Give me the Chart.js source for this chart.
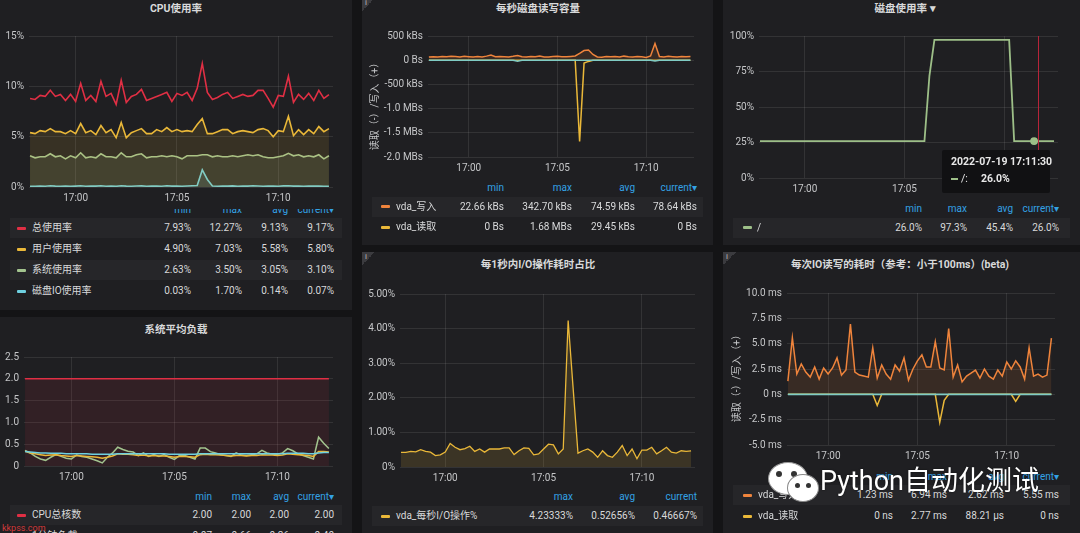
<!DOCTYPE html>
<html>
<head>
<meta charset="utf-8">
<script src="https://cdn.jsdelivr.net/npm/chart.js@4.4.1/dist/chart.umd.min.js"></script>
<style>
html, body { margin: 0; padding: 0; background: #141416; }
#root { position: relative; width: 1080px; height: 533px; overflow: hidden; background: #141416;
        font-family: Roboto, 'Noto Sans CJK SC', sans-serif; }
.panel { position: absolute; background: #1f1f22; }
</style>
</head>
<body>
<div id="root"></div>
<script>
// sample times (15s step)
const times = [
  '16:57:45','16:58:00','16:58:15','16:58:30','16:58:45','16:59:00','16:59:15','16:59:30',
  '16:59:45','17:00:00','17:00:15','17:00:30','17:00:45','17:01:00','17:01:15','17:01:30',
  '17:01:45','17:02:00','17:02:15','17:02:30','17:02:45','17:03:00','17:03:15','17:03:30',
  '17:03:45','17:04:00','17:04:15','17:04:30','17:04:45','17:05:00','17:05:15','17:05:30',
  '17:05:45','17:06:00','17:06:15','17:06:30','17:06:45','17:07:00','17:07:15','17:07:30',
  '17:07:45','17:08:00','17:08:15','17:08:30','17:08:45','17:09:00','17:09:15','17:09:30',
  '17:09:45','17:10:00','17:10:15','17:10:30','17:10:45','17:11:00','17:11:15','17:11:30',
  '17:11:45','17:12:00','17:12:15','17:12:30'
];
const timeTickLabels = ['17:00', '17:05', '17:10'];

// CPU使用率 (%)
const cpuTotal = [8.8, 8.7, 9.1, 9.0, 9.6, 9.0, 9.2, 8.6, 9.2, 8.5, 10.3, 8.6, 9.1, 8.5, 10.5, 9.0,
  9.3, 8.2, 10.6, 8.4, 9.0, 9.2, 9.7, 8.6, 8.8, 9.0, 9.2, 9.4, 8.5, 9.3, 9.1, 9.4,
  8.6, 9.8, 12.27, 9.4, 8.7, 8.9, 9.2, 9.4, 8.8, 9.0, 9.2, 9.0, 9.1, 9.6, 9.6, 8.8,
  7.93, 9.1, 9.0, 11.0, 8.4, 9.2, 8.7, 9.3, 8.6, 9.6, 8.8, 9.17];
const cpuUser = [5.4, 5.3, 5.6, 5.5, 5.8, 5.5, 5.5, 5.3, 5.6, 5.3, 6.3, 5.4, 5.6, 5.2, 6.1, 5.4,
  5.7, 4.9, 6.4, 4.9, 5.4, 5.6, 5.8, 5.3, 5.3, 5.7, 5.5, 5.9, 5.5, 5.7, 5.5, 5.6,
  5.5, 6.2, 6.8, 5.3, 5.3, 5.5, 5.7, 5.7, 5.3, 5.5, 5.6, 5.5, 5.4, 5.7, 5.8, 5.6,
  5.0, 5.6, 5.5, 7.03, 5.1, 5.7, 5.2, 5.7, 5.3, 6.0, 5.5, 5.8];
const cpuSys = [3.1, 2.9, 3.0, 3.0, 3.3, 3.0, 3.1, 2.8, 3.1, 2.9, 3.4, 2.9, 3.0, 2.9, 3.3, 3.0,
  3.0, 2.9, 3.4, 3.0, 3.0, 3.2, 3.3, 2.9, 3.0, 3.0, 3.1, 3.0, 3.1, 3.0, 2.8, 3.1,
  3.1, 3.1, 3.2, 3.2, 3.0, 3.1, 3.0, 3.0, 3.1, 3.0, 3.1, 3.2, 3.1, 3.2, 3.0, 2.9,
  2.9, 3.0, 3.1, 3.35, 3.1, 3.2, 3.0, 3.1, 3.0, 3.2, 2.8, 3.1];
const cpuDiskIO = [0.08, 0.07, 0.1, 0.08, 0.12, 0.09, 0.08, 0.1, 0.07, 0.09, 0.12, 0.08, 0.1, 0.09, 0.13, 0.08,
  0.1, 0.07, 0.12, 0.09, 0.08, 0.1, 0.11, 0.08, 0.09, 0.1, 0.08, 0.12, 0.09, 0.1, 0.08, 0.1,
  0.12, 0.15, 1.7, 0.75, 0.1, 0.08, 0.1, 0.09, 0.11, 0.08, 0.1, 0.09, 0.12, 0.1, 0.08, 0.09,
  0.1, 0.08, 0.11, 0.13, 0.09, 0.1, 0.08, 0.1, 0.09, 0.1, 0.08, 0.07];

// 系统平均负载
const loadCores = [2, 2, 2, 2, 2, 2, 2, 2, 2, 2, 2, 2, 2, 2, 2, 2, 2, 2, 2, 2,
  2, 2, 2, 2, 2, 2, 2, 2, 2, 2, 2, 2, 2, 2, 2, 2, 2, 2, 2, 2,
  2, 2, 2, 2, 2, 2, 2, 2, 2, 2, 2, 2, 2, 2, 2, 2, 2, 2, 2, 2];
const load1 = [0.36, 0.3, 0.22, 0.16, 0.13, 0.2, 0.26, 0.22, 0.18, 0.16, 0.25, 0.22, 0.2, 0.16, 0.12, 0.07,
  0.2, 0.3, 0.43, 0.38, 0.34, 0.32, 0.24, 0.3, 0.22, 0.26, 0.22, 0.26, 0.2, 0.15, 0.24, 0.24,
  0.2, 0.16, 0.41, 0.41, 0.33, 0.3, 0.26, 0.24, 0.22, 0.3, 0.25, 0.24, 0.26, 0.28, 0.36, 0.3,
  0.27, 0.27, 0.3, 0.4, 0.35, 0.28, 0.24, 0.2, 0.16, 0.66, 0.52, 0.4];
const load5 = [0.34, 0.3, 0.28, 0.26, 0.24, 0.25, 0.26, 0.24, 0.23, 0.22, 0.24, 0.23, 0.22, 0.21, 0.2, 0.18,
  0.2, 0.23, 0.28, 0.27, 0.27, 0.26, 0.24, 0.25, 0.23, 0.24, 0.23, 0.23, 0.22, 0.2, 0.22, 0.22,
  0.21, 0.2, 0.26, 0.27, 0.26, 0.26, 0.25, 0.24, 0.23, 0.24, 0.24, 0.23, 0.24, 0.24, 0.26, 0.25,
  0.25, 0.24, 0.25, 0.28, 0.27, 0.26, 0.25, 0.24, 0.22, 0.33, 0.33, 0.32];
const load15 = [0.33, 0.32, 0.31, 0.3, 0.3, 0.29, 0.29, 0.29, 0.28, 0.28, 0.28, 0.28, 0.28, 0.27, 0.27, 0.27,
  0.27, 0.27, 0.28, 0.28, 0.28, 0.28, 0.28, 0.28, 0.28, 0.28, 0.28, 0.28, 0.27, 0.27, 0.27, 0.27,
  0.27, 0.27, 0.28, 0.28, 0.28, 0.28, 0.28, 0.28, 0.28, 0.28, 0.28, 0.28, 0.28, 0.28, 0.28, 0.28,
  0.28, 0.28, 0.28, 0.29, 0.29, 0.29, 0.29, 0.28, 0.28, 0.3, 0.31, 0.31];

// 每秒磁盘读写容量 (kB/s, read shown negative)
const diskWrite = [66, 72, 64, 78, 70, 82, 74, 66, 80, 72, 66, 76, 68, 84, 108, 70,
  78, 72, 66, 80, 98, 72, 64, 78, 70, 86, 68, 66, 76, 80, 72, 70,
  78, 88, 140, 200, 212, 118, 66, 62, 78, 70, 76, 66, 84, 72, 64, 78,
  70, 58, 88, 342.7, 76, 68, 80, 72, 64, 78, 70, 78.64];
const diskRead = [0, 0, 0, 0, 0, 0, 0, 0, 0, 0, 0, 0, 0, 0, 0, 0, 0, 0, 0, 0,
  0, 0, 0, 0, 0, 0, 0, 0, 0, 0, 0, 0, 0, 0, -1680, -60, -25, 0, 0, 0,
  0, 0, 0, 0, 0, 0, 0, 0, 0, 0, 0, 0, 0, 0, 0, 0, 0, 0, 0, 0];
const diskOther = [0, 0, 0, 0, 0, 0, 0, 0, 0, 0, 0, 0, 0, 0, 0, 0, 0, 0, 0, 0,
  -20, 0, 0, 0, 0, 0, 0, 0, 0, 0, 0, 0, 0, 0, 0, 0, 0, 0, 0, 0,
  0, 0, 0, 0, 0, 0, 0, 0, 0, 0, 0, -18, 0, 0, 0, 0, 0, 0, 0, 0];

// 每1秒内I/O操作耗时占比 (%)
const ioUtil = [0.42, 0.42, 0.45, 0.44, 0.5, 0.45, 0.43, 0.33, 0.35, 0.43, 0.68, 0.57, 0.5, 0.53, 0.6, 0.45,
  0.52, 0.43, 0.52, 0.52, 0.52, 0.55, 0.55, 0.36, 0.47, 0.55, 0.54, 0.35, 0.38, 0.52, 0.66, 0.64,
  0.38, 0.52, 4.23333, 2.3, 0.4, 0.47, 0.52, 0.43, 0.28, 0.47, 0.33, 0.28, 0.43, 0.62, 0.33, 0.52,
  0.24, 0.49, 0.49, 0.57, 0.38, 0.47, 0.57, 0.43, 0.4, 0.47, 0.45, 0.46667];

// 磁盘使用率 (%)
const diskUsage = [26, 26, 26, 26, 26, 26, 26, 26, 26, 26, 26, 26, 26, 26, 26, 26, 26, 26, 26, 26,
  26, 26, 26, 26, 26, 26, 26, 26, 26, 26, 26, 26, 26, 26, 72, 97.3, 97.3, 97.3, 97.3, 97.3,
  97.3, 97.3, 97.3, 97.3, 97.3, 97.3, 97.3, 97.3, 97.3, 97.3, 97.3, 26, 26, 26, 26, 26, 26, 26, 26, 26];
const hoverSample = '17:11:30';
const hoverCursor = '17:11:42';

// 每次IO读写的耗时 (ms, read shown negative)
const latWrite = [1.3, 5.6, 2.0, 3.0, 2.2, 1.7, 2.7, 1.5, 2.6, 2.0, 2.6, 3.6, 1.9, 2.4, 6.94, 2.2,
  1.9, 1.8, 1.7, 4.6, 1.6, 2.9, 2.0, 1.5, 2.9, 2.3, 3.6, 1.4, 2.5, 3.3, 3.9, 2.7,
  2.7, 5.2, 2.6, 2.4, 6.5, 1.7, 2.9, 1.23, 1.8, 2.1, 2.4, 1.6, 2.5, 1.8, 1.5, 2.4,
  1.8, 3.2, 2.5, 3.3, 2.7, 1.5, 4.6, 1.8, 2.0, 1.7, 1.9, 5.55];
const latRead = [0, 0, 0, 0, 0, 0, 0, 0, 0, 0, 0, 0, 0, 0, 0, 0, 0, 0, 0, 0,
  -1.1, 0, 0, 0, 0, 0, 0, 0, 0, 0, 0, 0, 0, 0, -2.77, -0.6, 0, 0, 0, 0,
  0, 0, 0, 0, 0, 0, 0, 0, 0, 0, 0, -0.7, 0, 0, 0, 0, 0, 0, 0, 0];
const latOther = [0, 0, 0, 0, 0, 0, 0, 0, 0, 0, 0, 0, 0, 0, 0, 0, 0, 0, 0, 0,
  0, 0, 0, 0, 0, 0, 0, 0, 0, 0, 0, 0, 0, 0, 0, 0, 0, 0, 0, 0,
  0, 0, 0, 0, 0, 0, 0, 0, 0, 0, 0, 0, 0, 0, 0, 0, 0, 0, 0, 0];

// legend tables (text as shown)
const cpuLegend = [
  ['总使用率', '7.93%', '12.27%', '9.13%', '9.17%'],
  ['用户使用率', '4.90%', '7.03%', '5.58%', '5.80%'],
  ['系统使用率', '2.63%', '3.50%', '3.05%', '3.10%'],
  ['磁盘IO使用率', '0.03%', '1.70%', '0.14%', '0.07%']
];
const loadLegend = [
  ['CPU总核数', '2.00', '2.00', '2.00', '2.00'],
  ['1分钟负载', '0.07', '0.66', '0.26', '0.40']
];
const diskRWLegend = [
  ['vda_写入', '22.66 kBs', '342.70 kBs', '74.59 kBs', '78.64 kBs'],
  ['vda_读取', '0 Bs', '1.68 MBs', '29.45 kBs', '0 Bs']
];
const ioUtilLegend = [['vda_每秒I/O操作%', '4.23333%', '0.52656%', '0.46667%']];
const diskUsageLegend = [['/', '26.0%', '97.3%', '45.4%', '26.0%']];
const latLegend = [
  ['vda_写入', '1.23 ms', '6.94 ms', '2.62 ms', '5.55 ms'],
  ['vda_读取', '0 ns', '2.77 ms', '88.21 µs', '0 ns']
];

// ---------------------------------------------------------------
const RED = '#E02F44', YELLOW = '#EAB839', GREEN = '#A3C48F', BLUE = '#6ED0E0',
      ORANGE = '#EF843C', TEAL = '#7FCBC4', LGREEN = '#9DBF88';
const GRID = 'rgba(255,255,255,0.09)';
const TICK = '#c5c6c8';
const HEAD = '#33a2e5';
const TXT = '#d8d9da';

Chart.defaults.font.family = "Roboto, 'Noto Sans CJK SC', sans-serif";
Chart.defaults.font.size = 10;

const root = document.getElementById('root');
const toMin = t => { const p = t.split(':').map(Number); return p[0] * 60 + p[1] + (p[2] || 0) / 60 - 17 * 60; };
const xs = times.map(toMin);
const timeTicks = timeTickLabels.map(toMin);
const X_MIN = -2.3, X_MAX = 12.7;

function rgba(hex, a) {
  const n = parseInt(hex.slice(1), 16);
  return `rgba(${n >> 16},${(n >> 8) & 255},${n & 255},${a})`;
}

function box(x, y, w, h, css) {
  const d = document.createElement('div');
  d.style.cssText = `position:absolute;left:${x}px;top:${y}px;width:${w}px;height:${h}px;${css || ''}`;
  root.appendChild(d);
  return d;
}

function txt(s, x, y, opt, parent) {
  opt = opt || {};
  const d = document.createElement('div');
  d.textContent = s;
  let css = `position:absolute;top:${y}px;white-space:nowrap;line-height:1;font-size:${opt.size || 10}px;` +
    `color:${opt.color || TXT};font-weight:${opt.weight || 400};`;
  if (opt.align === 'right') css += `right:${(opt.width || 1080) - x}px;transform:translateY(-50%);`;
  else if (opt.align === 'center') css += `left:${x}px;transform:translate(-50%,-50%);`;
  else css += `left:${x}px;transform:translateY(-50%);`;
  d.style.cssText = css + (opt.css || '');
  (parent || root).appendChild(d);
  return d;
}

function makeChart(b, series, yCfg, plugins) {
  const padTop = 8, padRight = 3, xH = 20;
  const top = b.t - padTop;
  const w = b.r - b.cl + padRight, h = b.b - b.t + padTop + xH;
  const yW = b.l - b.cl;
  const cv = document.createElement('canvas');
  cv.width = w; cv.height = h;
  cv.style.cssText = `position:absolute;left:${b.cl}px;top:${top}px;width:${w}px;height:${h}px`;
  root.appendChild(cv);
  return new Chart(cv, {
    type: 'line',
    data: {
      datasets: series.map(s => ({
        label: s.label,
        data: s.values.map((v, i) => ({ x: xs[i], y: v })),
        borderColor: s.color,
        borderWidth: s.width || 1.5,
        backgroundColor: s.fill ? rgba(s.color, s.fill) : s.color,
        fill: s.fill ? 'origin' : false,
        pointRadius: s.pointRadius || 0,
        pointBackgroundColor: s.color,
        pointBorderColor: s.color,
        tension: 0
      }))
    },
    options: {
      responsive: false,
      animation: false,
      events: [],
      layout: { padding: { top: padTop, right: padRight, left: 0, bottom: 0 } },
      plugins: { legend: { display: false }, tooltip: { enabled: false } },
      scales: {
        x: {
          type: 'linear', min: X_MIN, max: X_MAX,
          afterBuildTicks: s => { s.ticks = timeTicks.map(v => ({ value: v })); },
          afterFit: s => { s.height = xH; },
          grid: { color: GRID, drawTicks: false },
          border: { display: false },
          ticks: { color: TICK, padding: 5, maxRotation: 0, autoSkip: false,
                   callback: (v, i) => timeTickLabels[i] }
        },
        y: {
          min: yCfg.min, max: yCfg.max,
          afterFit: s => { s.width = yW; },
          grid: { color: GRID, drawTicks: false },
          border: { display: false },
          ticks: { color: TICK, padding: 5, stepSize: yCfg.step, callback: yCfg.fmt }
        }
      }
    },
    plugins: plugins || []
  });
}

function legend(o) {
  if (o.heads) {
    let parent = root, dy = 0;
    if (o.clip) {
      parent = box(0, o.clip[0], 1080, o.clip[1] - o.clip[0], 'overflow:hidden');
      dy = o.clip[0];
    }
    o.heads.forEach((hd, i) => txt(hd, o.cols[i], o.headY - dy, { align: 'right', color: HEAD }, parent));
  }
  o.rows.forEach((r, k) => {
    const y = o.rowY[k];
    if (k % 2 === 0) box(o.x0, y - 10, o.x1 - o.x0, 20, 'background:#262629');
    box(o.markX, y - 1.5, 9, 3, `background:${o.colors[k]};border-radius:1px`);
    txt(r[0], o.nameX, y);
    r.slice(1).forEach((v, i) => txt(v, o.cols[i], y, { align: 'right' }));
  });
}

function corner(x, y) {
  box(x, y, 13, 13, 'background:linear-gradient(135deg,#3b3b3f 0,#3b3b3f 50%,transparent 50%)');
  txt('i', x + 3, y + 5, { size: 8, color: '#bbb' });
}

function yTitle(s, x, y) {
  txt(s, x, y, { align: 'center', color: TICK, css: 'transform:translate(-50%,-50%) rotate(-90deg);' });
}

// panels
[[0, -2, 352, 312], [0, 317, 352, 220], [362, -2, 351, 247], [362, 252, 351, 285],
 [723, -2, 357, 247], [723, 252, 357, 285]].forEach(p => box(p[0], p[1], p[2], p[3], 'background:#1f1f22'));
corner(362, -2); corner(362, 252); corner(723, 252);

const TITLE = { align: 'center', size: 10.5, weight: 700, color: '#d8d9da' };
txt('CPU使用率', 176, 9, TITLE);
txt('系统平均负载', 176, 330, TITLE);
txt('每秒磁盘读写容量', 538, 9, TITLE);
txt('每1秒内I/O操作耗时占比', 538, 265, TITLE);
txt('磁盘使用率 ▾', 905, 9, TITLE);
txt('每次IO读写的耗时（参考：小于100ms）(beta)', 900, 265, TITLE);

// CPU使用率
makeChart({ cl: 0, l: 29, t: 33, r: 333, b: 187 }, [
  { label: '总使用率', values: cpuTotal, color: RED, width: 1.6 },
  { label: '用户使用率', values: cpuUser, color: YELLOW, fill: 0.12, width: 1.6 },
  { label: '系统使用率', values: cpuSys, color: GREEN, fill: 0.12, width: 1.6 },
  { label: '磁盘IO使用率', values: cpuDiskIO, color: BLUE, fill: 0.12, width: 1.6 }
], { min: 0, max: 15, step: 5, fmt: v => v + '%' });
legend({ x0: 10, x1: 342, markX: 17, nameX: 32, heads: ['min', 'max', 'avg', 'current▾'],
         headY: 209.5, clip: [209, 216], cols: [191, 242, 288, 334], rowY: [228, 249, 270, 291],
         rows: cpuLegend, colors: [RED, YELLOW, GREEN, BLUE] });

// 系统平均负载
makeChart({ cl: 0, l: 24, t: 354, r: 333, b: 466 }, [
  { label: '15分钟负载', values: load15, color: BLUE },
  { label: '5分钟负载', values: load5, color: YELLOW },
  { label: '1分钟负载', values: load1, color: GREEN },
  { label: 'CPU总核数', values: loadCores, color: RED, fill: 0.1 }
], { min: 0, max: 2.5, step: 0.5, fmt: v => v === 0 ? '0' : v.toFixed(1) });
legend({ x0: 10, x1: 342, markX: 17, nameX: 32, heads: ['min', 'max', 'avg', 'current▾'],
         headY: 497, cols: [212, 251, 289, 334], rowY: [515, 536],
         rows: loadLegend, colors: [RED, GREEN] });

// 每秒磁盘读写容量
makeChart({ cl: 362, l: 428, t: 33, r: 694, b: 157 }, [
  { label: '', values: diskOther, color: TEAL },
  { label: 'vda_读取', values: diskRead, color: YELLOW },
  { label: 'vda_写入', values: diskWrite, color: ORANGE, fill: 0.12 }
], { min: -2000, max: 500, step: 500,
     fmt: v => v === 0 ? '0 Bs' : Math.abs(v) < 1000 ? v + ' kBs' : (v / 1000).toFixed(1) + ' MBs' });
yTitle('读取（-）/写入（+）', 375, 104);
legend({ x0: 372, x1: 703, markX: 381, nameX: 396, heads: ['min', 'max', 'avg', 'current▾'],
         headY: 188, cols: [504, 572, 635, 697], rowY: [206.5, 227],
         rows: diskRWLegend, colors: [ORANGE, YELLOW] });

// 每1秒内I/O操作耗时占比
makeChart({ cl: 362, l: 400, t: 291, r: 695, b: 467 }, [
  { label: 'vda_每秒I/O操作%', values: ioUtil, color: YELLOW, fill: 0.14, width: 1.3 }
], { min: 0, max: 5, step: 1, fmt: v => v === 0 ? '0%' : v.toFixed(2) + '%' });
legend({ x0: 372, x1: 703, markX: 381, nameX: 396, heads: ['max', 'avg', 'current'],
         headY: 497, cols: [573, 635, 697], rowY: [516],
         rows: ioUtilLegend, colors: [YELLOW] });

// 磁盘使用率
const hoverIdx = times.indexOf(hoverSample);
const crosshair = {
  id: 'crosshair',
  afterDatasetsDraw(chart) {
    const { ctx, chartArea, scales } = chart;
    const x = Math.round(scales.x.getPixelForValue(toMin(hoverCursor))) + 0.5;
    ctx.save();
    ctx.strokeStyle = '#b8243a';
    ctx.lineWidth = 1;
    ctx.beginPath();
    ctx.moveTo(x, chartArea.top);
    ctx.lineTo(x, chartArea.bottom);
    ctx.stroke();
    ctx.restore();
  }
};
const usageChart = makeChart({ cl: 723, l: 759, t: 33, r: 1058, b: 178 }, [
  { label: '/', values: diskUsage, color: LGREEN, width: 1.8 }
], { min: 0, max: 100, step: 25, fmt: v => v + '%' }, [crosshair]);
usageChart.data.datasets[0].pointRadius = ctx => ctx.dataIndex === hoverIdx ? 3 : 0;
usageChart.update();
legend({ x0: 733, x1: 1070, markX: 743, nameX: 757, heads: ['min', 'max', 'avg', 'current▾'],
         headY: 209, cols: [922, 967, 1013, 1059], rowY: [227.5],
         rows: diskUsageLegend, colors: [LGREEN] });
// hover tooltip
box(942, 150, 108, 43, 'background:#111113;border-radius:2px');
txt('2022-07-19 ' + hoverSample, 951, 162, { size: 10.5, weight: 700, color: '#e8e8e8' });
box(951, 178, 7, 2, `background:${LGREEN}`);
txt('/:', 961, 179, { size: 10.5, color: '#e8e8e8' });
txt(diskUsageLegend[0][4], 981, 179, { size: 10.5, weight: 700, color: '#e8e8e8' });

// 每次IO读写的耗时
makeChart({ cl: 723, l: 787, t: 290, r: 1055, b: 445 }, [
  { label: '', values: latOther, color: TEAL, width: 1.8 },
  { label: 'vda_读取', values: latRead, color: YELLOW },
  { label: 'vda_写入', values: latWrite, color: ORANGE, fill: 0.12 }
], { min: -5, max: 10, step: 2.5, fmt: v => v === 0 ? '0 ns' : v.toFixed(1) + ' ms' });
yTitle('读取（-）/写入（+）', 737, 376);
legend({ x0: 733, x1: 1070, markX: 743, nameX: 758, heads: ['min', 'max', 'avg', 'current▾'],
         headY: 477, cols: [893, 947, 1004, 1059], rowY: [495, 516],
         rows: latLegend, colors: [ORANGE, YELLOW] });

// watermarks
box(768, 462, 38, 31, 'background:#fff;border:1px solid #999;border-radius:50%');
box(776, 471, 6, 6, 'background:#333;border-radius:50%');
box(791, 471, 6, 6, 'background:#333;border-radius:50%');
box(787, 474, 30, 26, 'background:#fff;border:1.5px solid #888;border-radius:50%');
box(795, 483, 5, 5, 'background:#333;border-radius:50%');
box(806, 483, 5, 5, 'background:#333;border-radius:50%');
txt('Python自动化测试', 820, 481, { size: 27, color: '#ffffff', css: 'text-shadow:0 0 2px rgba(0,0,0,0.6);' });
txt('kkpss.com', 2, 528, { size: 9, color: '#d23a3a' });
</script>
</body>
</html>
